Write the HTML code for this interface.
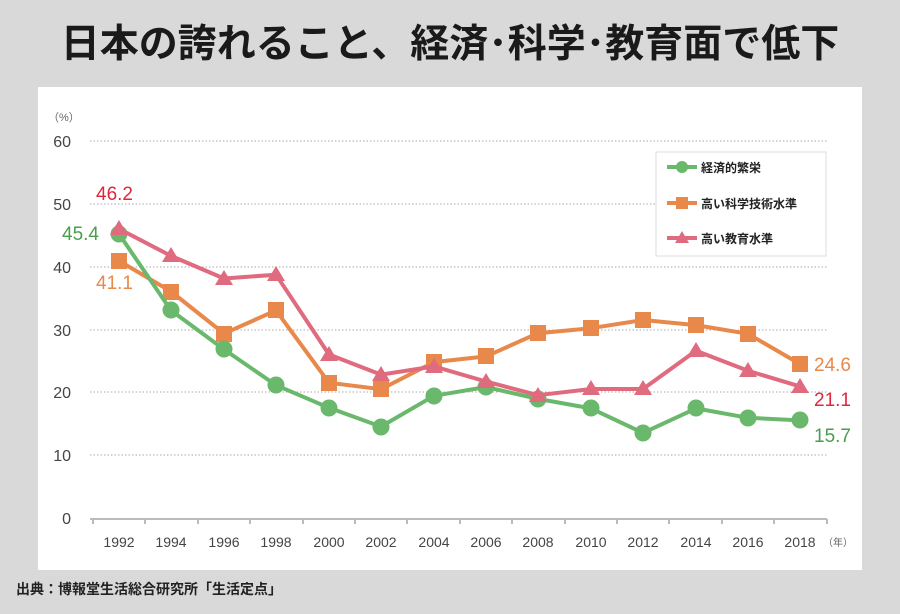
<!DOCTYPE html>
<html><head><meta charset="utf-8"><style>
body{margin:0;width:900px;height:609px;background:#d9d9d9;overflow:hidden;font-family:"Liberation Sans","Noto Sans CJK JP",sans-serif}
</style></head><body>
<svg width="900" height="609" xmlns="http://www.w3.org/2000/svg" font-family="Liberation Sans, Noto Sans CJK JP, sans-serif">
<rect width="900" height="609" fill="#d9d9d9"/>
<text x="450" y="57" text-anchor="middle" font-size="39" font-weight="bold" fill="#1a1a1a">日本の誇れること、経済･科学･教育面で低下</text>
<rect x="38" y="87" width="824" height="483" fill="#fff"/>
<text x="48" y="121" font-size="11" fill="#666">（%）</text>
<g stroke="#aaa" stroke-dasharray="1.5,2" stroke-width="1">
<line x1="90" x2="827" y1="141" y2="141"/><line x1="90" x2="827" y1="204" y2="204"/><line x1="90" x2="827" y1="267" y2="267"/><line x1="90" x2="827" y1="330" y2="330"/><line x1="90" x2="827" y1="392" y2="392"/><line x1="90" x2="827" y1="455" y2="455"/>
</g>
<g font-size="16" fill="#444" text-anchor="end">
<text x="71" y="147">60</text><text x="71" y="210">50</text><text x="71" y="273">40</text><text x="71" y="336">30</text><text x="71" y="398">20</text><text x="71" y="461">10</text><text x="71" y="524">0</text>
</g>
<line x1="90" x2="827" y1="519" y2="519" stroke="#bbb" stroke-width="2"/>
<g stroke="#bbb" stroke-width="2">
<line x1="93" x2="93" y1="519" y2="524"/><line x1="145" x2="145" y1="519" y2="524"/><line x1="198" x2="198" y1="519" y2="524"/><line x1="250" x2="250" y1="519" y2="524"/><line x1="303" x2="303" y1="519" y2="524"/><line x1="355" x2="355" y1="519" y2="524"/><line x1="407" x2="407" y1="519" y2="524"/><line x1="460" x2="460" y1="519" y2="524"/><line x1="512" x2="512" y1="519" y2="524"/><line x1="565" x2="565" y1="519" y2="524"/><line x1="617" x2="617" y1="519" y2="524"/><line x1="669" x2="669" y1="519" y2="524"/><line x1="722" x2="722" y1="519" y2="524"/><line x1="774" x2="774" y1="519" y2="524"/><line x1="827" x2="827" y1="519" y2="524"/>
</g>
<g font-size="14" fill="#444" text-anchor="middle">
<text x="119" y="547">1992</text><text x="171" y="547">1994</text><text x="224" y="547">1996</text><text x="276" y="547">1998</text><text x="329" y="547">2000</text><text x="381" y="547">2002</text><text x="434" y="547">2004</text><text x="486" y="547">2006</text><text x="538" y="547">2008</text><text x="591" y="547">2010</text><text x="643" y="547">2012</text><text x="696" y="547">2014</text><text x="748" y="547">2016</text><text x="800" y="547">2018</text>
</g>
<text x="823" y="546" font-size="10" fill="#666">（年）</text>
<polyline fill="none" stroke="#e8884a" stroke-width="4" stroke-linejoin="round" points="119,260.8 171,291.5 224,333.6 276,310.4 329,382.8 381,389.2 434,362.1 486,356.4 538,333.2 591,328.2 643,320.0 696,325.1 748,333.8 800,364.0"/>
<g fill="#e8884a">
<rect x="111" y="253" width="16" height="16"/><rect x="163" y="284" width="16" height="16"/><rect x="216" y="326" width="16" height="16"/><rect x="268" y="302" width="16" height="16"/><rect x="321" y="375" width="16" height="16"/><rect x="373" y="381" width="16" height="16"/><rect x="426" y="354" width="16" height="16"/><rect x="478" y="348" width="16" height="16"/><rect x="530" y="325" width="16" height="16"/><rect x="583" y="320" width="16" height="16"/><rect x="635" y="312" width="16" height="16"/><rect x="688" y="317" width="16" height="16"/><rect x="740" y="326" width="16" height="16"/><rect x="792" y="356" width="16" height="16"/>
</g>
<polyline fill="none" stroke="#6ab86c" stroke-width="4" stroke-linejoin="round" points="119,233.9 171,310.4 224,349.4 276,385.2 329,407.8 381,426.6 434,395.8 486,387.0 538,398.9 591,408.4 643,432.9 696,408.4 748,417.8 800,420.4"/>
<g fill="#6ab86c">
<circle cx="119" cy="234" r="8.5"/><circle cx="171" cy="310" r="8.5"/><circle cx="224" cy="349" r="8.5"/><circle cx="276" cy="385" r="8.5"/><circle cx="329" cy="408" r="8.5"/><circle cx="381" cy="427" r="8.5"/><circle cx="434" cy="396" r="8.5"/><circle cx="486" cy="387" r="8.5"/><circle cx="538" cy="399" r="8.5"/><circle cx="591" cy="408" r="8.5"/><circle cx="643" cy="433" r="8.5"/><circle cx="696" cy="408" r="8.5"/><circle cx="748" cy="418" r="8.5"/><circle cx="800" cy="420" r="8.5"/>
</g>
<polyline fill="none" stroke="#e06a7e" stroke-width="4" stroke-linejoin="round" points="119,228.9 171,255.9 224,278.5 276,274.7 329,354.5 381,374.6 434,366.4 486,381.5 538,395.2 591,389.0 643,389.0 696,350.7 748,370.8 800,386.4"/>
<g fill="#e06a7e">
<path d="M119,220 l9,15 h-18z"/><path d="M171,247 l9,15 h-18z"/><path d="M224,270 l9,15 h-18z"/><path d="M276,266 l9,15 h-18z"/><path d="M329,346 l9,15 h-18z"/><path d="M381,366 l9,15 h-18z"/><path d="M434,358 l9,15 h-18z"/><path d="M486,373 l9,15 h-18z"/><path d="M538,387 l9,15 h-18z"/><path d="M591,380 l9,15 h-18z"/><path d="M643,380 l9,15 h-18z"/><path d="M696,342 l9,15 h-18z"/><path d="M748,362 l9,15 h-18z"/><path d="M800,378 l9,15 h-18z"/>
</g>
<g font-size="19">
<text x="96" y="200" fill="#e0253f">46.2</text>
<text x="62" y="240" fill="#4a9e4c">45.4</text>
<text x="96" y="289" fill="#e8884a">41.1</text>
<text x="814" y="371" fill="#e8884a">24.6</text>
<text x="814" y="406" fill="#e0253f">21.1</text>
<text x="814" y="442" fill="#4a9e4c">15.7</text>
</g>
<rect x="656" y="152" width="170" height="104" fill="#fff" stroke="#ddd"/>
<line x1="667" x2="697" y1="167" y2="167" stroke="#6ab86c" stroke-width="4"/><circle cx="682" cy="167" r="6" fill="#6ab86c"/>
<text x="701" y="172" font-size="12" font-weight="bold" fill="#222">経済的繁栄</text>
<line x1="667" x2="697" y1="203" y2="203" stroke="#e8884a" stroke-width="4"/><rect x="676" y="197" width="12" height="12" fill="#e8884a"/>
<text x="701" y="208" font-size="12" font-weight="bold" fill="#222">高い科学技術水準</text>
<line x1="667" x2="697" y1="238" y2="238" stroke="#e06a7e" stroke-width="4"/><path d="M682,231 l7,12 h-14z" fill="#e06a7e"/>
<text x="701" y="243" font-size="12" font-weight="bold" fill="#222">高い教育水準</text>
<text x="16" y="594" font-size="14" font-weight="bold" fill="#222">出典：博報堂生活総合研究所「生活定点」</text>
</svg>
</body></html>
